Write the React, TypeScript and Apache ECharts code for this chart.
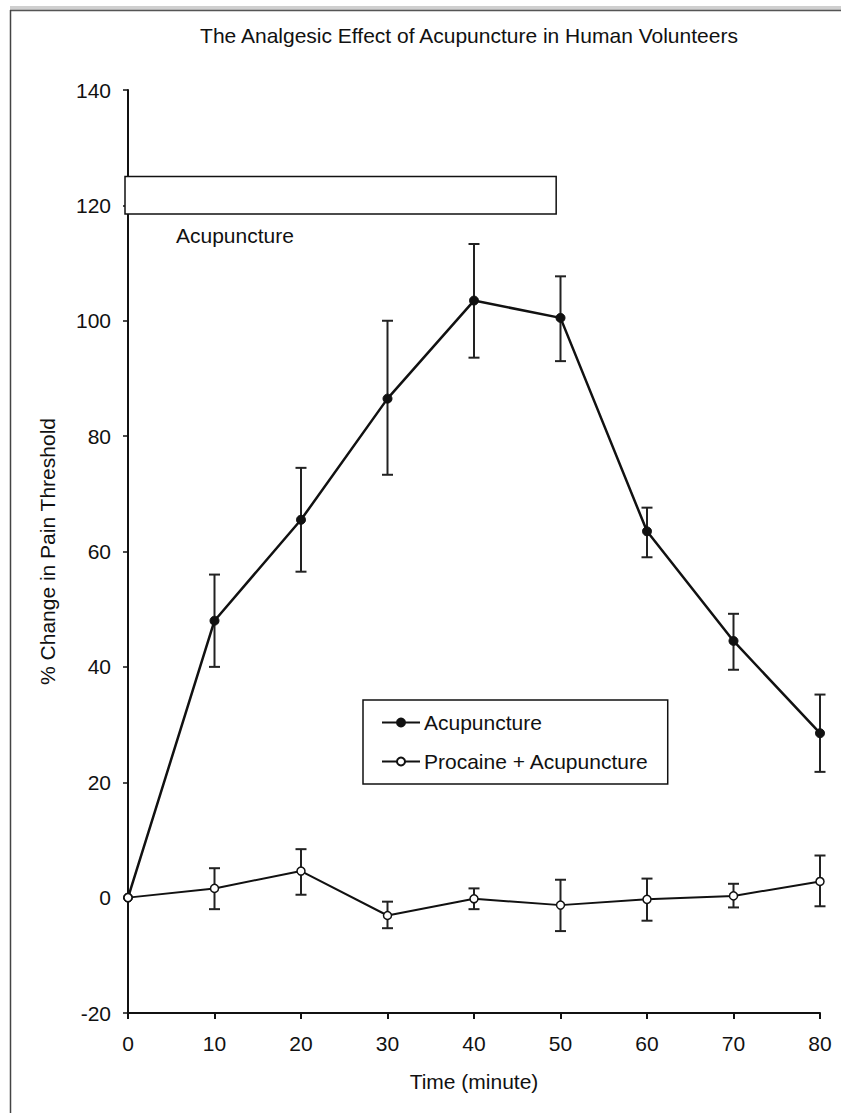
import React, { useEffect, useRef } from "react";
import * as echarts from "echarts";

const times = [0, 10, 20, 30, 40, 50, 60, 70, 80];
const acuMean = [0, 48, 65.5, 86.5, 103.5, 100.5, 63.5, 44.5, 28.5];
const acuLow = [null, 40, 56.5, 73.3, 93.6, 93, 59, 39.5, 21.8];
const acuHigh = [null, 56, 74.5, 100, 113.3, 107.7, 67.6, 49.2, 35.2];
const procMean = [0, 1.6, 4.6, -3.1, -0.2, -1.3, -0.3, 0.3, 2.8];
const procLow = [null, -2.0, 0.5, -5.3, -2.0, -5.8, -4.0, -1.7, -1.5];
const procHigh = [null, 5.1, 8.4, -0.7, 1.6, 3.1, 3.3, 2.4, 7.3];
const periodBar = [[0, 49.5, 118.5, 125]];
const periodLabel = "Acupuncture";
const seriesNames = ["Acupuncture", "Procaine + Acupuncture"];
const titleText = "The Analgesic Effect of Acupuncture in Human Volunteers";

const FONT = "'Liberation Sans', Arial, Helvetica, sans-serif";
const INK = "#111";
const FS = 21;

function errData(low: (number | null)[], high: (number | null)[]) {
  const out: number[][] = [];
  times.forEach((t, i) => {
    if (low[i] != null && high[i] != null) out.push([t, low[i] as number, high[i] as number]);
  });
  return out;
}

function errRender(params: any, api: any) {
  const x = api.value(0);
  const lo = api.coord([x, api.value(1)]);
  const hi = api.coord([x, api.value(2)]);
  const cap = 5.5;
  const style = { stroke: "#222", lineWidth: 2 };
  return {
    type: "group",
    children: [
      { type: "line", shape: { x1: lo[0], y1: lo[1], x2: hi[0], y2: hi[1] }, style },
      { type: "line", shape: { x1: lo[0] - cap, y1: lo[1], x2: lo[0] + cap, y2: lo[1] }, style },
      { type: "line", shape: { x1: hi[0] - cap, y1: hi[1], x2: hi[0] + cap, y2: hi[1] }, style },
    ],
  };
}

export default function App() {
  const ref = useRef<HTMLDivElement>(null);
  useEffect(() => {
    document.body.style.margin = "0";
    const chart = echarts.init(ref.current!, null, { renderer: "svg" });
    chart.setOption({
      animation: false,
      backgroundColor: "#fff",
      textStyle: { fontFamily: FONT, color: INK },
      title: {
        text: titleText,
        left: 464,
        top: 20,
        textAlign: "center",
        textStyle: { fontFamily: FONT, fontSize: FS, fontWeight: "normal", color: INK },
      },
      graphic: [
        { type: "line", shape: { x1: 10, y1: 8.5, x2: 841, y2: 8.5 }, style: { stroke: "#cfcfcf", lineWidth: 5 } },
        { type: "line", shape: { x1: 10, y1: 10.5, x2: 841, y2: 10.5 }, style: { stroke: "#555", lineWidth: 1.5 } },
        { type: "line", shape: { x1: 10.5, y1: 10, x2: 10.5, y2: 1113 }, style: { stroke: "#444", lineWidth: 1.5 } },
      ],
      legend: {
        data: seriesNames,
        orient: "vertical",
        left: 363,
        top: 700,
        padding: [11, 19, 11, 18],
        itemGap: 16,
        itemWidth: 38,
        itemHeight: 10,
        borderColor: "#111",
        borderWidth: 1.5,
        borderRadius: 0,
        textStyle: { fontFamily: FONT, fontSize: FS, lineHeight: 23, color: INK, padding: [0, 0, 0, -1] },
      },
      grid: { left: 128, right: 21, top: 90, bottom: 100, containLabel: false },
      xAxis: {
        type: "value",
        min: 0,
        max: 80,
        interval: 10,
        name: "Time (minute)",
        nameLocation: "middle",
        nameGap: 58,
        nameTextStyle: { fontFamily: FONT, fontSize: FS, color: INK },
        axisLine: { onZero: false, lineStyle: { color: INK, width: 2 } },
        axisTick: { show: true, length: 6, lineStyle: { color: INK, width: 2 } },
        axisLabel: { fontFamily: FONT, fontSize: FS, color: INK, margin: 20 },
        splitLine: { show: false },
      },
      yAxis: {
        type: "value",
        min: -20,
        max: 140,
        interval: 20,
        name: "% Change in Pain Threshold",
        nameLocation: "middle",
        nameGap: 70,
        nameTextStyle: { fontFamily: FONT, fontSize: FS, color: INK },
        axisLine: { show: true, onZero: false, lineStyle: { color: INK, width: 2 } },
        axisTick: { show: true, length: 5, lineStyle: { color: INK, width: 1.5 } },
        axisLabel: { fontFamily: FONT, fontSize: FS, color: INK, margin: 17 },
        splitLine: { show: false },
      },
      series: [
        {
          name: "period",
          type: "custom",
          data: periodBar,
          encode: { x: [0, 1], y: [2, 3] },
          z: 1,
          renderItem: (params: any, api: any) => {
            const p1 = api.coord([api.value(0), api.value(3)]);
            const p2 = api.coord([api.value(1), api.value(2)]);
            return {
              type: "group",
              children: [
                {
                  type: "rect",
                  shape: { x: p1[0] - 3, y: p1[1], width: p2[0] - p1[0] + 3, height: p2[1] - p1[1] },
                  style: { fill: "#fff", stroke: INK, lineWidth: 1.5 },
                },
                {
                  type: "text",
                  x: p1[0] + 48,
                  y: p2[1] + 11,
                  style: { text: periodLabel, fontSize: FS, fontFamily: FONT, fill: INK },
                },
              ],
            };
          },
        },
        {
          name: "acuErr",
          type: "custom",
          data: errData(acuLow, acuHigh),
          encode: { x: 0, y: [1, 2] },
          renderItem: errRender,
          z: 2,
        },
        {
          name: "procErr",
          type: "custom",
          data: errData(procLow, procHigh),
          encode: { x: 0, y: [1, 2] },
          renderItem: errRender,
          z: 2,
        },
        {
          name: seriesNames[0],
          type: "line",
          data: times.map((t, i) => [t, acuMean[i]]),
          symbol: "circle",
          symbolSize: 9,
          lineStyle: { color: INK, width: 2.5 },
          itemStyle: { color: INK, borderColor: INK, borderWidth: 1 },
          z: 3,
        },
        {
          name: seriesNames[1],
          type: "line",
          data: times.map((t, i) => [t, procMean[i]]),
          symbol: "circle",
          symbolSize: 8,
          lineStyle: { color: INK, width: 2 },
          itemStyle: { color: "#fff", borderColor: INK, borderWidth: 1.5 },
          z: 3,
        },
      ],
    });
    return () => chart.dispose();
  }, []);
  return <div ref={ref} style={{ width: 841, height: 1113 }} />;
}
